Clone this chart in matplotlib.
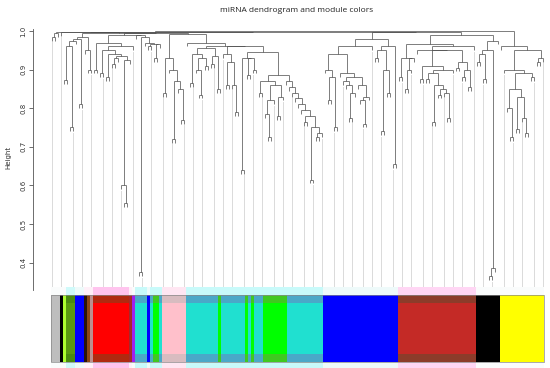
import numpy as np
import matplotlib
matplotlib.use('Agg')
import matplotlib.pyplot as plt

title = 'miRNA dendrogram and module colors'
y_label = 'Height'
y_ticks = [0.4, 0.5, 0.6, 0.7, 0.8, 0.9, 1.0]

# module colour of consecutive leaves (left to right) and how many leaves each run has
module_colors = ['#bebebe', '#000000', '#adff2f', '#5a9a10', '#0000ff', '#2a1408',
                 '#8b4513', '#bc8f8f', '#ff0000', '#a52a2a', '#a020f0', '#20e0d0',
                 '#0000ff', '#20e0d0', '#00ff00', '#20e0d0', '#ffc0cb', '#20e0d0',
                 '#00ff00', '#20e0d0', '#00ff00', '#20e0d0', '#00ff00', '#20e0d0',
                 '#00ff00', '#20e0d0', '#0000ff', '#c42a26', '#000000', '#ffff00']
module_sizes = [3, 1, 1, 3, 3, 1, 1, 1, 12, 1, 1, 4, 1, 1, 2, 1, 8, 11,
                1, 8, 1, 1, 1, 3, 8, 12, 25, 26, 8, 15]

# merge height between neighbouring leaves (ordered dendrogram)
merge_gaps = [
    0.985, 0.995, 0.998, 0.997, 0.873, 0.96, 0.75, 0.975, 0.98, 0.81,
    0.985, 0.95, 0.90, 0.995, 0.90, 0.97, 0.89, 0.95, 0.88, 0.94,
    0.915, 0.93, 0.935, 0.60, 0.555, 0.925, 0.96, 0.99, 0.99, 0.375,
    0.985, 0.97, 0.96, 0.965, 0.93, 0.965, 0.995, 0.84, 0.93, 0.90,
    0.72, 0.87, 0.85, 0.77, 0.992, 0.97, 0.865, 0.94, 0.90, 0.835,
    0.93, 0.91, 0.955, 0.915, 0.935, 0.85, 0.96, 0.94, 0.86, 0.92,
    0.86, 0.79, 0.96, 0.64, 0.93, 0.885, 0.93, 0.90, 0.945, 0.84,
    0.87, 0.785, 0.725, 0.82, 0.86, 0.78, 0.83, 0.885, 0.87, 0.855,
    0.84, 0.825, 0.81, 0.795, 0.765, 0.78, 0.615, 0.75, 0.725, 0.735,
    0.998, 0.90, 0.82, 0.88, 0.75, 0.94, 0.89, 0.87, 0.86, 0.775,
    0.84, 0.88, 0.86, 0.82, 0.76, 0.83, 0.96, 0.98, 0.93, 0.95,
    0.74, 0.90, 0.84, 0.96, 0.655, 0.997, 0.88, 0.93, 0.85, 0.90,
    0.93, 0.965, 0.95, 0.875, 0.91, 0.875, 0.89, 0.765, 0.86, 0.835,
    0.85, 0.84, 0.775, 0.90, 0.95, 0.905, 0.92, 0.88, 0.90, 0.855,
    0.96, 0.99, 0.92, 0.94, 0.875, 0.95, 0.365, 0.385, 0.975, 0.999,
    0.96, 0.90, 0.80, 0.725, 0.85, 0.745, 0.83, 0.775, 0.735, 0.89,
    0.88, 0.95, 0.92, 0.93,
]

# styling for the colour bar (darker rim inside, pale halo outside)
rim = {'#ff0000': '#b02a10', '#20e0d0': '#4aa8c8', '#ffc0cb': '#d8bcc0',
       '#00ff00': '#40c820', '#c42a26': '#8c3c2a', '#5a9a10': '#4a8a10'}
halo = {'#20e0d0': '#c8fafa', '#00ff00': '#c8fafa', '#ff0000': '#ffc4ee',
        '#ffc0cb': '#ffe6f2', '#c42a26': '#ffd6f4', '#5a9a10': '#d0fafa',
        '#0000ff': '#eefafa', '#a52a2a': '#fff0f8', '#bc8f8f': '#fff0f8',
        '#8b4513': '#fff0f8', '#2a1408': '#fff0f8'}

leaf_colors = np.repeat(module_colors, module_sizes)
n = len(leaf_colors)
hang = 0.01
line_col = '#4a4a4a'

W, H = 550, 368
fig = plt.figure(figsize=(W / 100, H / 100), dpi=100)


def px_axes(l, t, r, b):
    return fig.add_axes([l / W, 1 - b / H, (r - l) / W, (b - t) / H])


ax = px_axes(33, 29, 545, 290)
x_lim = (-6.52, 164.7)
ax.set_xlim(*x_lim)
ax.set_ylim(0.329, 1.005)

leaf_bottom = np.zeros(n)


def build(a, b):
    # returns (x, height) of the subtree covering leaves a..b
    if a == b:
        return float(a), None
    k = a + int(np.argmax(merge_gaps[a:b]))
    h = merge_gaps[k]
    xl, hl = build(a, k)
    xr, hr = build(k + 1, b)
    for x, hc, idx in ((xl, hl, a), (xr, hr, b)):
        if hc is None:
            hc = h - hang
            leaf_bottom[idx] = hc
        ax.plot([x, x], [hc, h], color=line_col, lw=0.5, solid_capstyle='butt')
    ax.plot([xl, xr], [h, h], color=line_col, lw=0.5, solid_capstyle='butt')
    return (xl + xr) / 2, h


build(0, n - 1)

for g in np.linspace(0, n - 1, 50).round().astype(int):
    ax.plot([g, g], [leaf_bottom[g] - 0.004, 0.329], color='#d4d4d4', lw=0.6, zorder=0)

for s in ['top', 'right', 'bottom']:
    ax.spines[s].set_visible(False)
ax.spines['left'].set_color('#555555')
ax.spines['left'].set_linewidth(0.6)
ax.set_xticks([])
ax.set_yticks(y_ticks)
ax.set_yticklabels([f'{t:.1f}' for t in y_ticks], rotation=90, va='center',
                   fontsize=5, color='#333333')
ax.tick_params(axis='y', length=3, width=0.6, color='#555555', pad=2)
fig.text(8 / W, 1 - 157 / H, y_label, rotation=90, fontsize=5, color='#333333',
         ha='center', va='center')
fig.text(297 / W, 1 - 10 / H, title, fontsize=6.0, color='#222222',
         ha='center', va='center', family='Open Sans')

# colour bar, y in pixel units
bx = px_axes(33, 286, 545, 368)
bx.set_xlim(*x_lim)
bx.set_ylim(368, 286)
bx.axis('off')
idx = np.arange(n)
halo_c = [halo.get(c, '#fafcfc') for c in leaf_colors]
rim_c = [rim.get(c, c) for c in leaf_colors]
bx.bar(idx, 8, bottom=287, width=1.0, color=halo_c, linewidth=0)
bx.bar(idx, 6, bottom=362, width=1.0, color=halo_c, linewidth=0)
bx.bar(idx, 67, bottom=295, width=1.0, color=rim_c, linewidth=0)
bx.bar(idx, 51, bottom=303, width=1.0, color=leaf_colors, linewidth=0)
bx.add_patch(plt.Rectangle((-0.5, 295), n, 67, fill=False, ec='#888888', lw=0.5))

fig.savefig('out.png', dpi=100)
